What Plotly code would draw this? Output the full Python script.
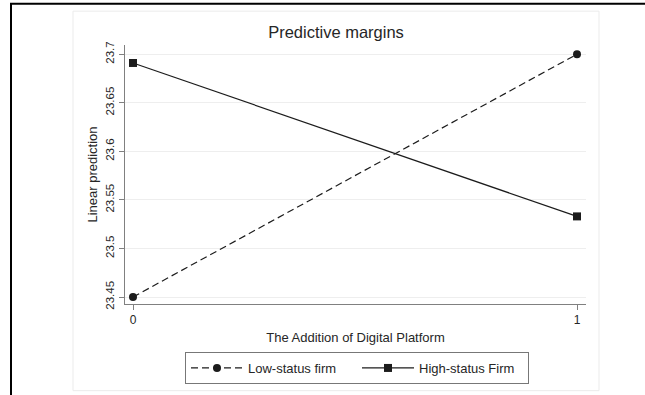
import plotly.graph_objects as go

# Margin estimates at each level of the digital-platform indicator
x_levels = [0, 1]
x_ticktext = ["0", "1"]
low_status = [23.45, 23.70]
high_status = [23.691, 23.533]
y_tickvals = [23.45, 23.5, 23.55, 23.6, 23.65, 23.7]
y_ticktext = ["23.45", "23.5", "23.55", "23.6", "23.65", "23.7"]
series_names = ["Low-status firm", "High-status Firm"]

W, H = 645, 395
L, R, T, B = 125, 59, 45, 90
pw, ph = W - L - R, H - T - B


def px_x(p):
    return (p - L) / pw


def px_y(p):
    return (H - B - p) / ph


FONT = "Liberation Sans, Arial, sans-serif"
INK = "#1c1c1c"
TEXT = "#262626"

fig = go.Figure()
fig.add_trace(go.Scatter(
    x=x_levels, y=low_status, name=series_names[0], mode="lines+markers",
    line=dict(color=INK, width=1.2, dash="7px,4px"),
    marker=dict(symbol="circle", size=8, color=INK),
))
fig.add_trace(go.Scatter(
    x=x_levels, y=high_status, name=series_names[1], mode="lines+markers",
    line=dict(color=INK, width=1.2),
    marker=dict(symbol="square", size=8, color=INK),
))

shapes = [
    # black border: only its top and left edges fall inside the canvas
    dict(type="rect", xref="paper", yref="paper",
         x0=px_x(11), x1=px_x(W + 20), y0=px_y(H + 20), y1=px_y(3.5),
         line=dict(color="black", width=2), layer="above"),
    # light outer frame of the graph region
    dict(type="rect", xref="paper", yref="paper",
         x0=px_x(73), x1=px_x(599), y0=px_y(392), y1=px_y(11),
         line=dict(color="#ebebeb", width=1), layer="below"),
]

fig.update_layout(
    width=W, height=H,
    margin=dict(l=L, r=R, t=T, b=B),
    paper_bgcolor="white", plot_bgcolor="white",
    font=dict(family=FONT, size=13, color=TEXT),
    title=dict(text="Predictive margins", x=336 / W,
               xanchor="center", y=1 - 32 / H, yanchor="middle",
               font=dict(size=16.5, color=TEXT)),
    shapes=shapes,
    showlegend=True,
    legend=dict(
        orientation="h", x=px_x(185), xanchor="left", y=px_y(352), yanchor="top",
        bordercolor="#777777", borderwidth=1, bgcolor="white",
        font=dict(size=13, color=TEXT), itemwidth=52,
        entrywidth=104, tracegroupgap=0,
    ),
    xaxis=dict(
        range=[-8 / 444, 1 + 9 / 444], tickvals=x_levels, ticktext=x_ticktext,
        tickfont=dict(size=12),
        showline=True, linecolor="#808080", linewidth=1,
        ticks="outside", ticklen=5, tickcolor="#808080",
        showgrid=False, zeroline=False,
        title=dict(text="The Addition of Digital Platform", standoff=6,
                   font=dict(size=13)),
    ),
    yaxis=dict(
        range=[23.4428, 23.7095], tickvals=y_tickvals, ticktext=y_ticktext,
        tickangle=-90, tickfont=dict(size=11.5),
        showline=True, linecolor="#808080", linewidth=1,
        ticks="outside", ticklen=5, tickcolor="#808080",
        showgrid=True, gridcolor="#eeeeee", gridwidth=1, zeroline=False,
        title=dict(text="Linear prediction", standoff=3, font=dict(size=13)),
    ),
)

fig.write_html("out.html", config={"displayModeBar": False})
